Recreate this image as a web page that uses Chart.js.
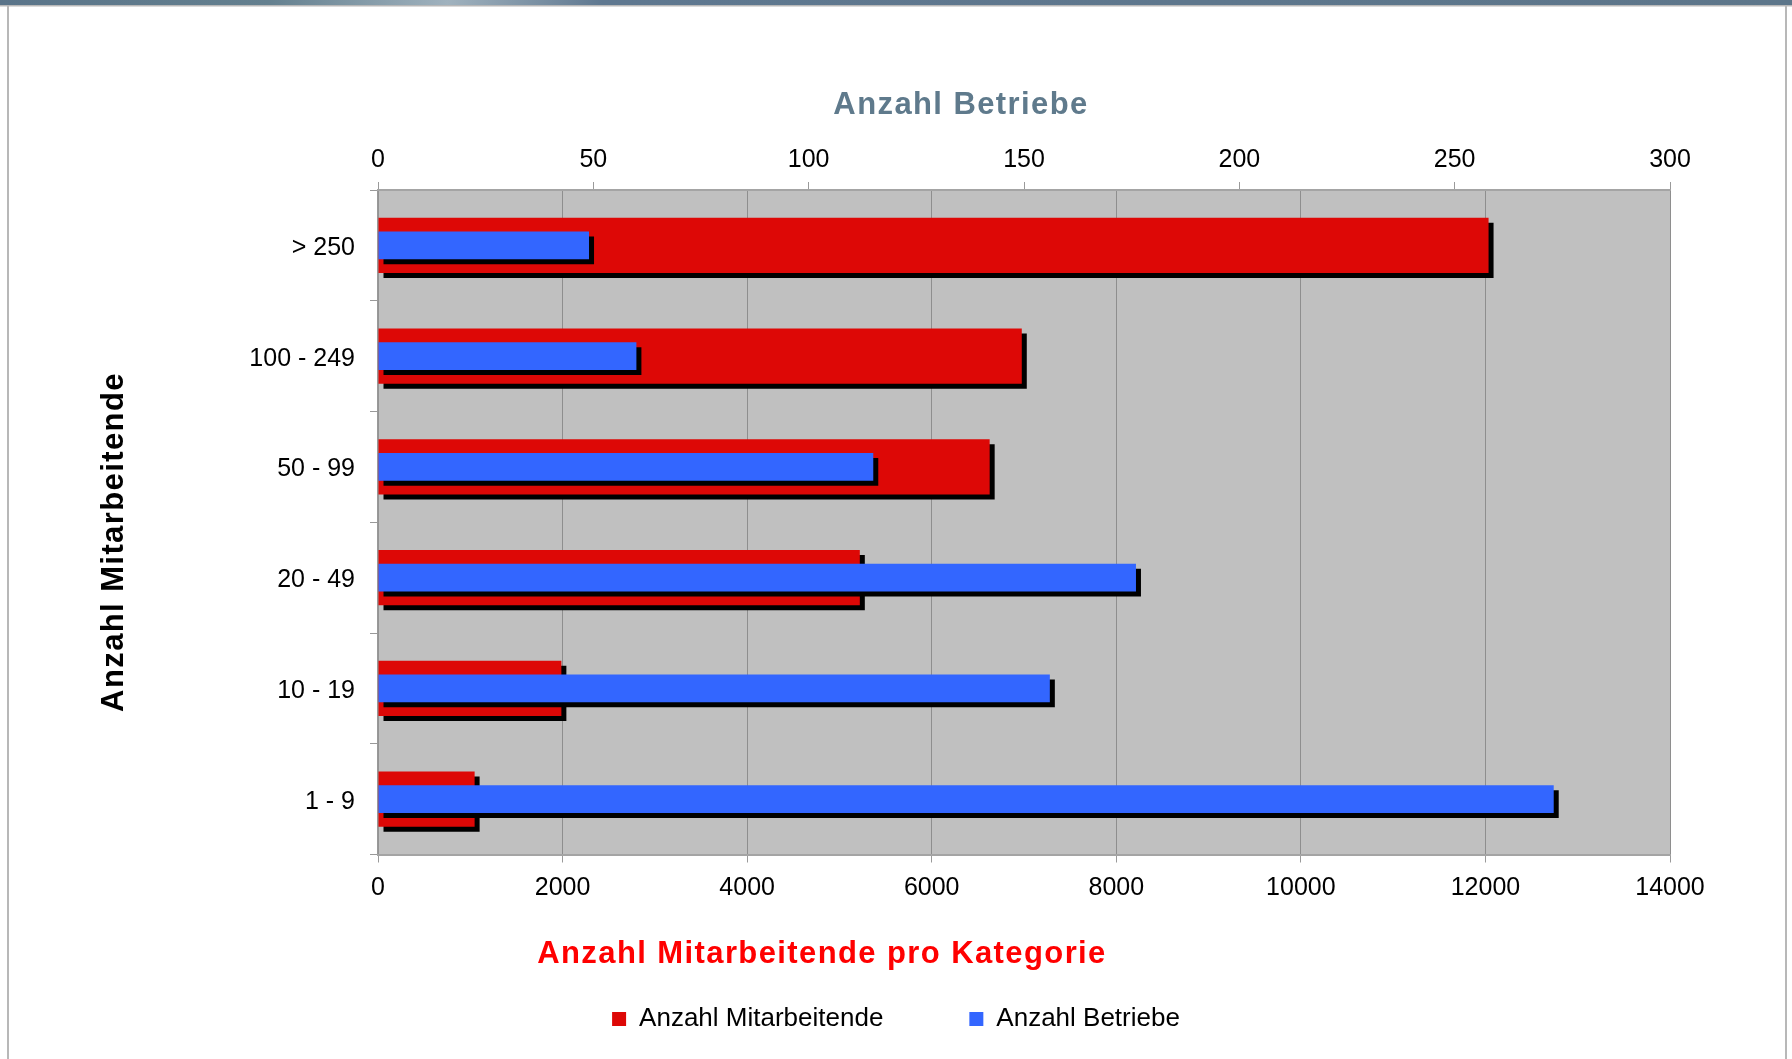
<!DOCTYPE html>
<html><head><meta charset="utf-8">
<script src="https://cdn.jsdelivr.net/npm/chart.js@4.4.1/dist/chart.umd.min.js"></script>
<style>html,body{margin:0;padding:0;background:#fff;overflow:hidden}canvas{display:block}</style>
</head><body>
<canvas id="c" width="1792" height="1059"></canvas>
<script>
// ---- data ----
const categories = ['> 250', '100 - 249', '50 - 99', '20 - 49', '10 - 19', '1 - 9'];
const mitarbeitende = [12034, 6976, 6628, 5221, 1987, 1047];
const betriebe = [49, 60, 115, 176, 156, 273];
const seriesNames = ['Anzahl Mitarbeitende', 'Anzahl Betriebe'];
const axisTitleTop = 'Anzahl Betriebe';
const axisTitleBottom = 'Anzahl Mitarbeitende pro Kategorie';
const axisTitleLeft = 'Anzahl Mitarbeitende';
const bottomRange = [0, 14000, 2000];
const topRange = [0, 300, 50];

const F = "'Liberation Sans', Arial, Helvetica, sans-serif";
const RED = 'rgb(221,8,6)';
const BLUE = 'rgb(51,102,255)';

const framePlugin = {
  id: 'frame',
  beforeDraw(chart) {
    const ctx = chart.ctx, W = chart.width, H = chart.height;
    ctx.save();
    ctx.fillStyle = '#ffffff';
    ctx.fillRect(0, 0, W, H);
    const g = ctx.createLinearGradient(0, 0, W, 0);
    g.addColorStop(0, '#5a7489');
    g.addColorStop(0.15, '#64808f');
    g.addColorStop(0.25, '#a0b2be');
    g.addColorStop(0.336, '#5f7890');
    g.addColorStop(1, '#5d768a');
    ctx.fillStyle = g;
    ctx.fillRect(0, 0, W, 5);
    ctx.fillStyle = '#b8b8b8';
    ctx.fillRect(0, 5, W, 1.5);
    ctx.fillRect(7, 5, 2, H - 5);
    ctx.fillRect(1785, 5, 2, H - 5);
    const a = chart.chartArea;
    ctx.fillStyle = '#c0c0c0';
    ctx.fillRect(a.left, a.top, a.right - a.left, a.bottom - a.top);
    ctx.restore();
  }
};

const shadowPlugin = {
  id: 'barShadow',
  beforeDatasetDraw(chart) {
    const ctx = chart.ctx;
    ctx.save();
    ctx.shadowColor = 'rgba(0,0,0,1)';
    ctx.shadowBlur = 0;
    ctx.shadowOffsetX = 5;
    ctx.shadowOffsetY = 5;
  },
  afterDatasetDraw(chart) {
    chart.ctx.restore();
  }
};

const titlesPlugin = {
  id: 'axisTitles',
  afterDraw(chart) {
    const ctx = chart.ctx;
    ctx.save();
    ctx.font = 'bold 31px ' + F;
    if ('letterSpacing' in ctx) ctx.letterSpacing = '1.4px';
    ctx.textAlign = 'center';
    ctx.textBaseline = 'alphabetic';
    ctx.fillStyle = '#5f7a8c';
    ctx.fillText(axisTitleTop, 961, 113.5);
    ctx.fillStyle = '#ff0000';
    ctx.fillText(axisTitleBottom, 822, 963);
    ctx.translate(123, 542);
    ctx.rotate(-Math.PI / 2);
    ctx.fillStyle = '#000000';
    ctx.fillText(axisTitleLeft, 0, 0);
    ctx.restore();
  }
};

const tickFont = {family: F, size: 25};

new Chart(document.getElementById('c'), {
  type: 'bar',
  data: {
    labels: categories,
    datasets: [
      {
        label: seriesNames[0], data: mitarbeitende, xAxisID: 'x',
        backgroundColor: RED, borderWidth: 0, grouped: false, order: 1,
        categoryPercentage: 1, barPercentage: 0.5
      },
      {
        label: seriesNames[1], data: betriebe, xAxisID: 'x2',
        backgroundColor: BLUE, borderWidth: 0, grouped: false, order: 0,
        categoryPercentage: 1, barPercentage: 0.25
      }
    ]
  },
  options: {
    responsive: false, animation: false, indexAxis: 'y', devicePixelRatio: 1,
    layout: {padding: {left: 122, right: 122, top: 0, bottom: 17}},
    plugins: {
      legend: {
        position: 'bottom',
        labels: {
          font: {family: F, size: 26}, color: '#000', boxWidth: 14, boxHeight: 14, padding: 86,
          sort: (a, b) => a.datasetIndex - b.datasetIndex
        }
      },
      tooltip: {enabled: false},
      title: {display: false}
    },
    scales: {
      y: {
        type: 'category', position: 'left',
        afterFit: s => { s.width = 256; },
        grid: {drawOnChartArea: false, drawTicks: true, tickLength: 8, color: '#999999', offset: true},
        border: {display: true, color: '#999999', width: 1.5},
        ticks: {font: tickFont, color: '#000', padding: 15, labelOffset: 2.5}
      },
      x: {
        type: 'linear', position: 'bottom', min: bottomRange[0], max: bottomRange[1],
        afterFit: s => { s.height = 65.5; },
        ticks: {stepSize: bottomRange[2], font: tickFont, color: '#000', padding: 10.5, maxRotation: 0, autoSkip: false,
                callback: v => String(v)},
        grid: {color: '#8e8e8e', lineWidth: 1, tickLength: 8, drawTicks: true, tickColor: '#9a9a9a'},
        border: {color: '#a4a4a4', width: 2}
      },
      x2: {
        type: 'linear', position: 'top', min: topRange[0], max: topRange[1],
        afterFit: s => { s.height = 190; },
        ticks: {stepSize: topRange[2], font: tickFont, color: '#000', padding: 6.5, maxRotation: 0, autoSkip: false,
                callback: v => String(v)},
        grid: {drawOnChartArea: false, tickLength: 8, drawTicks: true, color: '#9a9a9a'},
        border: {color: '#a4a4a4', width: 2}
      }
    }
  },
  plugins: [framePlugin, shadowPlugin, titlesPlugin]
});
</script>
</body></html>
